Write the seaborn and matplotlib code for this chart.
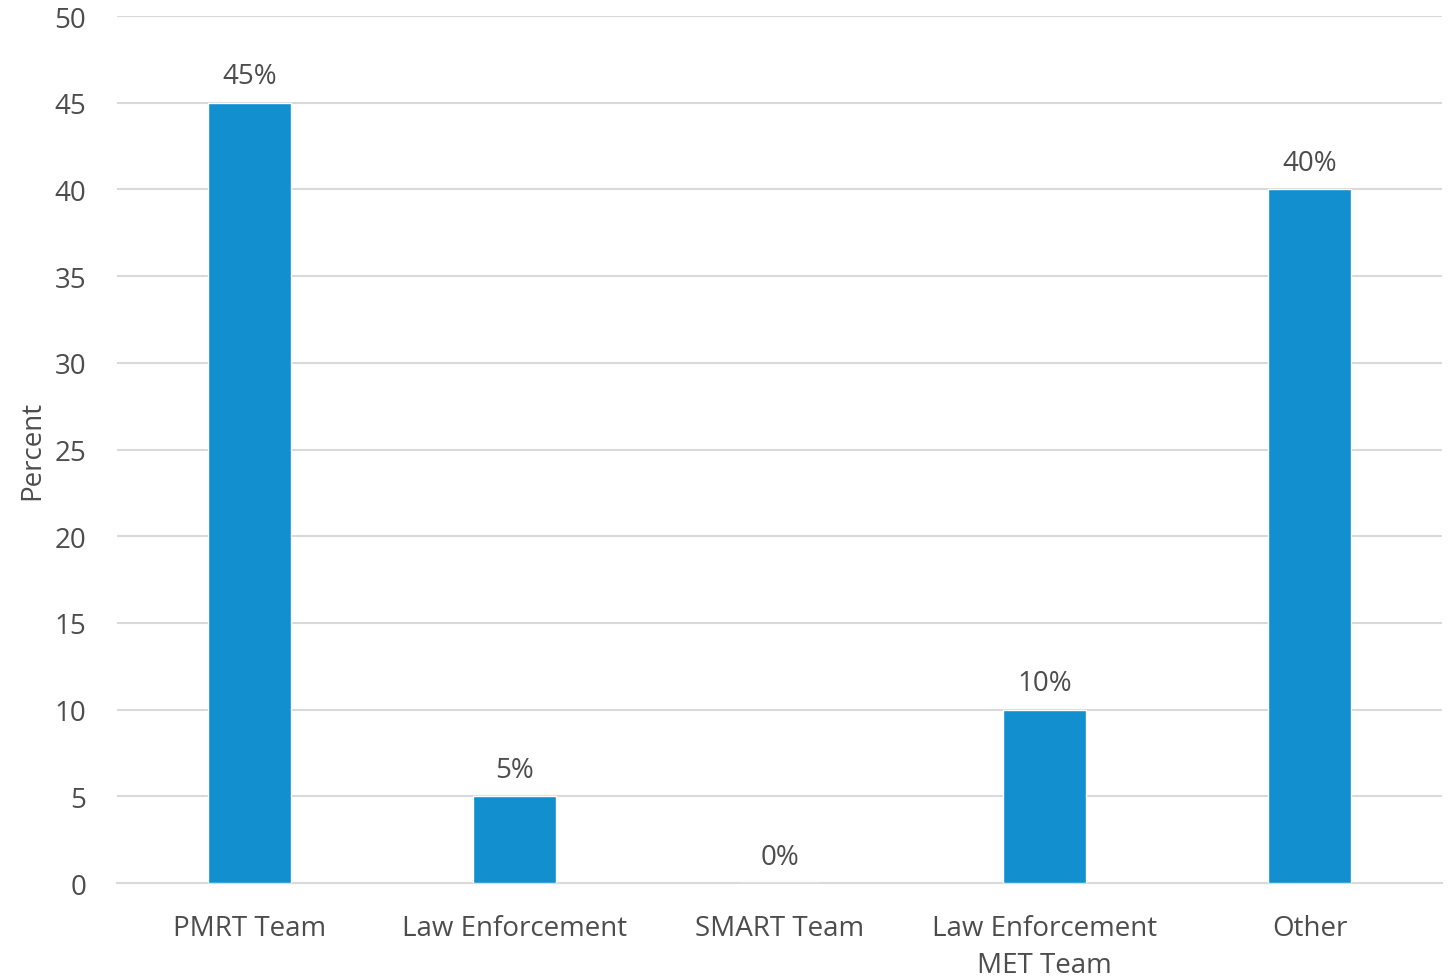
import matplotlib
matplotlib.use("Agg")
import matplotlib.pyplot as plt
import seaborn as sns
import pandas as pd

categories = ["PMRT Team", "Law Enforcement", "SMART Team", "Law Enforcement\nMET Team", "Other"]
percents = [45, 5, 0, 10, 40]
y_ticks = [0, 5, 10, 15, 20, 25, 30, 35, 40, 45, 50]

bar_color = "#118FCE"
text_color = "#4D4D4D"
grid_color = "#D9D9D9"

sns.set_theme(style="white")
plt.rcParams["font.family"] = ["Open Sans", "DejaVu Sans"]

df = pd.DataFrame({"category": categories, "percent": percents})

fig = plt.figure(figsize=(14.53, 9.78), dpi=100)
ax = fig.add_axes([0.0805, 0.0961, 0.912, 0.8865])

sns.barplot(data=df, x="category", y="percent", color=bar_color, width=0.315,
            saturation=1, ax=ax, zorder=3)

ax.set_ylim(0, 50)
ax.set_yticks(y_ticks)
ax.set_xlim(-0.5, len(categories) - 0.5)
ax.yaxis.grid(True, color=grid_color, linewidth=1.5, zorder=0)
ax.set_axisbelow(True)

for s in ["top", "right", "left"]:
    ax.spines[s].set_visible(False)
ax.spines["bottom"].set_color(grid_color)
ax.spines["bottom"].set_linewidth(1.5)

ax.tick_params(axis="both", length=0, labelsize=20, colors=text_color)
ax.tick_params(axis="y", pad=22)
ax.tick_params(axis="x", pad=22)
for lbl in ax.get_xticklabels():
    lbl.set_linespacing(1.45)
ax.set_xlabel("")
ax.set_ylabel("Percent", fontsize=20, color=text_color, labelpad=6)

for i, v in enumerate(percents):
    ax.annotate(f"{v}%", (i, v), xytext=(0, 9), textcoords="offset points",
                ha="center", va="bottom", fontsize=20, color=text_color)

fig.savefig("out.png", dpi=100)
